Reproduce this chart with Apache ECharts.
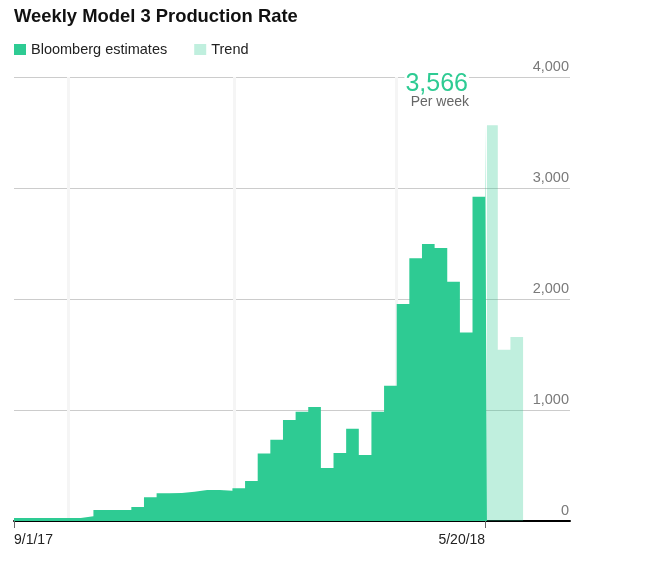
<!DOCTYPE html>
<html><head><meta charset="utf-8">
<script src="https://cdn.jsdelivr.net/npm/echarts@6/dist/echarts.min.js"></script>
<style>html,body{margin:0;padding:0;background:#fff}#c{width:668px;height:562px}</style>
</head><body><div id="c"></div>
<script>
// ---- data (weekly, weeks start on Sunday) ----
const weekStarts = ['2017-08-27','2017-09-03','2017-09-10','2017-09-17','2017-09-24','2017-10-01',
  '2017-10-08','2017-10-15','2017-10-22','2017-10-29','2017-11-05','2017-11-12','2017-11-19',
  '2017-11-26','2017-12-03','2017-12-10','2017-12-17','2017-12-24','2017-12-31','2018-01-07',
  '2018-01-14','2018-01-21','2018-01-28','2018-02-04','2018-02-11','2018-02-18','2018-02-25',
  '2018-03-04','2018-03-11','2018-03-18','2018-03-25','2018-04-01','2018-04-08','2018-04-15',
  '2018-04-22','2018-04-29','2018-05-06','2018-05-13','2018-05-20'];
const bloombergValues = [27,27,27,27,27,27,
  42,99,99,100,126,213,250,
  253,264,279,280,273,294,360,
  607,733,910,985,1027,477,613,
  832,595,985,1219,1955,2366,2495,
  2459,2156,1699,2922,3566];
const bloombergEnd = '2018-05-21';
const trendStarts = ['2018-05-21','2018-05-27','2018-06-03'];
const trendValues = [3566,1543,1658];
const trendEnd = '2018-06-10';
const quarterLines = ['2017-10-01','2018-01-01','2018-04-01'];
const xTickDates = ['2017-09-01','2018-05-20'];
const xMin = '2017-09-01', xMax = '2018-07-06';
const yTicks = [0,1000,2000,3000,4000];

const GREEN = '#2ecb93';
const TREND = 'rgba(46,203,147,0.3)';
const FONT = '"Liberation Sans", Arial, Helvetica, sans-serif';

function ts(s){const p=s.split('-');return Date.UTC(+p[0],+p[1]-1,+p[2]);}
function fmtDate(v){const d=new Date(v);return (d.getUTCMonth()+1)+'/'+d.getUTCDate()+'/'+String(d.getUTCFullYear()).slice(2);}

const bData = weekStarts.map((d,i)=>[ts(d), bloombergValues[i]]);
bData.push([ts(bloombergEnd), bloombergValues[bloombergValues.length-1]]);
const tData = trendStarts.map((d,i)=>[ts(d), trendValues[i]]);
tData.push([ts(trendEnd), trendValues[trendValues.length-1]]);

const peak = Math.max(...bloombergValues);

const chart = echarts.init(document.getElementById('c'), null, {renderer:'canvas'});
const baseX = {
  type:'value', min: ts(xMin), max: ts(xMax), gridIndex:0, position:'bottom',
  splitLine:{show:false}, minorTick:{show:false}, scale:true
};
chart.setOption({
  animation:false,
  textStyle:{fontFamily:FONT},
  title:{text:'Weekly Model 3 Production Rate', left:14, top:8, padding:0,
    textStyle:{fontSize:18.4, fontWeight:'bold', color:'#111', fontFamily:FONT}},
  legend:{left:14, top:42, padding:0, itemGap:27, itemWidth:12, itemHeight:11, icon:'rect',
    textStyle:{fontSize:14.5, color:'#222', fontFamily:FONT},
    data:[{name:'Bloomberg estimates', itemStyle:{color:GREEN, borderWidth:0}},
          {name:'Trend', itemStyle:{color:TREND, borderWidth:0}}]},
  grid:{left:14, right:98, top:77, bottom:41, containLabel:false},
  xAxis:[
    Object.assign({}, baseX, {
      axisLine:{show:true, onZero:false, lineStyle:{color:'#000', width:2}},
      axisTick:{show:true, customValues:xTickDates.map(ts), length:7, lineStyle:{color:'#666', width:1}},
      axisLabel:{customValues:[ts(xTickDates[0])], formatter:fmtDate, align:'left', margin:12,
        fontSize:14, color:'#222', showMinLabel:true, fontFamily:FONT}
    }),
    Object.assign({}, baseX, {
      axisLine:{show:false, onZero:false}, axisTick:{show:false},
      axisLabel:{customValues:[ts(xTickDates[1])], formatter:fmtDate, align:'right', margin:12,
        fontSize:14, color:'#222', fontFamily:FONT}
    })
  ],
  yAxis:{type:'value', position:'right', min:yTicks[0], max:yTicks[yTicks.length-1], interval:1000,
    axisLine:{show:false}, axisTick:{show:false},
    splitLine:{show:true, lineStyle:{color:'#cccccc', width:1}},
    axisLabel:{inside:true, margin:1, verticalAlign:'bottom', padding:[0,0,3,0], fontSize:14.5,
      color:'#7a7a7a', fontFamily:FONT, formatter:v=>v.toLocaleString('en-US')}},
  series:[
    {name:'Bloomberg estimates', type:'line', step:'end', data:bData, xAxisIndex:0,
      showSymbol:false, symbol:'none', color:GREEN, itemStyle:{color:GREEN},
      lineStyle:{width:0, opacity:0}, areaStyle:{color:GREEN, opacity:1}, z:3,
      markLine:{z:1, silent:true, symbol:['none','none'], label:{show:false},
        lineStyle:{color:'#f5f5f5', width:3, type:'solid'}, emphasis:{disabled:true},
        data:quarterLines.map(d=>({xAxis:ts(d)}))}},
    {name:'Trend', type:'line', step:'end', data:tData, xAxisIndex:0,
      showSymbol:false, symbol:'none', color:TREND, itemStyle:{color:TREND},
      lineStyle:{width:0, opacity:0}, areaStyle:{color:TREND, opacity:1}, z:2}
  ],
  graphic:[
    {type:'text', x:469, y:84, z:100,
      style:{text:peak.toLocaleString('en-US'), align:'right', verticalAlign:'middle',
        font:'25px '+FONT, fill:GREEN, backgroundColor:'#fff', padding:[0,1]}},
    {type:'text', x:469, y:102, z:100,
      style:{text:'Per week', align:'right', verticalAlign:'middle',
        font:'14px '+FONT, fill:'#666'}}
  ]
});
</script></body></html>
